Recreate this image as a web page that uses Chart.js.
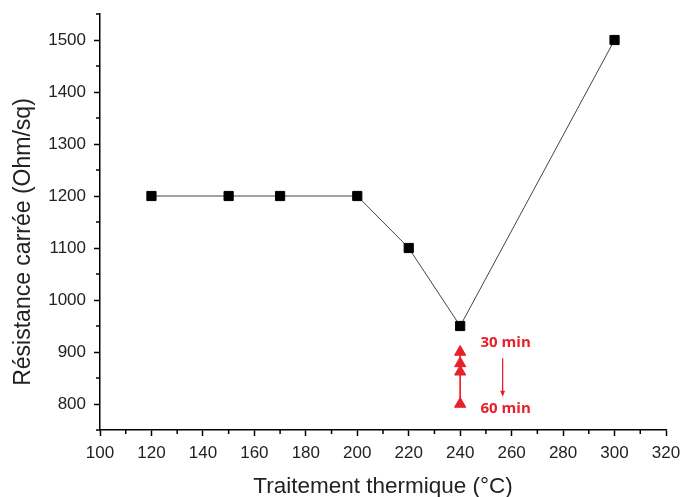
<!DOCTYPE html>
<html>
<head>
<meta charset="utf-8">
<script src="https://cdn.jsdelivr.net/npm/chart.js@4.4.0/dist/chart.umd.min.js"></script>
<style>
  html, body { margin: 0; padding: 0; background: #fff; }
  #wrap { width: 682px; height: 497px; }
</style>
</head>
<body>
<div id="wrap"><canvas id="chart"></canvas></div>
<script>
// donnees
const temperatures = [120, 150, 170, 200, 220, 240, 300];
const resistances = [1200, 1200, 1200, 1200, 1100, 950, 1500];
const tempsRecuit = [240, 240, 240, 240];
const resistancesRecuit = [900, 878, 862, 800];
const xTicks = [100, 120, 140, 160, 180, 200, 220, 240, 260, 280, 300, 320];
const yTicks = [800, 900, 1000, 1100, 1200, 1300, 1400, 1500];

const rouge = "#e8202a";

// petits traits secondaires, titre Y et annotations 30/60 min
const extras = {
  id: "extras",
  afterDraw(chart) {
    const { ctx, scales } = chart;
    const x = scales.x, y = scales.y;
    ctx.save();
    ctx.strokeStyle = "#000";
    ctx.lineWidth = 1.5;
    for (let v = 110; v < 320; v += 20) {
      const px = x.getPixelForValue(v);
      ctx.beginPath();
      ctx.moveTo(px, y.bottom);
      ctx.lineTo(px, y.bottom + 4);
      ctx.stroke();
    }
    for (let v = 750; v <= 1550; v += 100) {
      const py = y.getPixelForValue(v);
      ctx.beginPath();
      ctx.moveTo(x.left, py);
      ctx.lineTo(x.left - 4, py);
      ctx.stroke();
    }
    // titre Y (un peu decale vers le bas comme sur l'original)
    ctx.save();
    ctx.translate(24, 242);
    ctx.rotate(-Math.PI / 2);
    ctx.fillStyle = "#222";
    ctx.font = "23px 'Liberation Sans', Arial";
    ctx.textAlign = "center";
    ctx.textBaseline = "middle";
    ctx.fillText("Résistance carrée (Ohm/sq)", 0, 0);
    ctx.restore();
    // annotations
    ctx.fillStyle = rouge;
    ctx.font = "bold 15px 'Open Sans'";
    ctx.textAlign = "center";
    ctx.textBaseline = "middle";
    const ax = x.getPixelForValue(256.5);
    ctx.fillText("30 min", ax + 3, y.getPixelForValue(918));
    ctx.fillText("60 min", ax + 3, y.getPixelForValue(791));
    const y1 = y.getPixelForValue(888), y2 = y.getPixelForValue(814);
    ctx.strokeStyle = rouge;
    ctx.lineWidth = 1.3;
    ctx.beginPath();
    ctx.moveTo(ax, y1);
    ctx.lineTo(ax, y2 - 2);
    ctx.stroke();
    ctx.beginPath();
    ctx.moveTo(ax - 2.5, y2 - 6);
    ctx.lineTo(ax, y2);
    ctx.lineTo(ax + 2.5, y2 - 6);
    ctx.closePath();
    ctx.fill();
    ctx.restore();
  }
};

// pas de marge automatique pour les etiquettes
function sansMarge(s) {
  s.paddingLeft = 0;
  s.paddingRight = 0;
  s.paddingTop = 0;
  s.paddingBottom = 0;
}

new Chart(document.getElementById("chart").getContext("2d"), {
  type: "line",
  data: {
    datasets: [
      {
        label: "Recuit",
        data: temperatures.map((t, i) => ({ x: t, y: resistances[i] })),
        borderColor: "#444",
        borderWidth: 1,
        pointStyle: "rect",
        pointRadius: 6.5,
        pointBackgroundColor: "#000",
        pointBorderColor: "#000",
        tension: 0,
      },
      {
        label: "Duree",
        data: tempsRecuit.map((t, i) => ({ x: t, y: resistancesRecuit[i] })),
        borderColor: rouge,
        borderWidth: 1,
        pointStyle: "triangle",
        pointRadius: 6.5,
        pointBackgroundColor: rouge,
        pointBorderColor: rouge,
        tension: 0,
      },
    ],
  },
  options: {
    responsive: true,
    maintainAspectRatio: false,
    animation: false,
    layout: { padding: { top: 14, right: 16, left: 0, bottom: 0 } },
    plugins: { legend: { display: false }, tooltip: { enabled: false } },
    scales: {
      x: {
        type: "linear",
        min: 100,
        max: 320,
        afterFit(s) { s.height = 67; sansMarge(s); },
        afterBuildTicks(s) { s.ticks = xTicks.map(v => ({ value: v })); },
        border: { color: "#000", width: 1.5 },
        grid: { drawOnChartArea: false, drawTicks: true, tickLength: 6, tickColor: "#000", tickWidth: 1.5 },
        ticks: {
          color: "#222",
          font: { family: "'Liberation Sans', Arial", size: 17 },
          padding: 7,
          maxRotation: 0,
          callback: v => String(v),
        },
        title: {
          display: true,
          text: "Traitement thermique (°C)",
          color: "#222",
          font: { family: "'Liberation Sans', Arial", size: 22.5 },
          padding: { top: 0, bottom: -3 },
        },
      },
      y: {
        type: "linear",
        min: 750,
        max: 1550,
        afterFit(s) { s.width = 100; sansMarge(s); },
        afterBuildTicks(s) { s.ticks = yTicks.map(v => ({ value: v })); },
        border: { color: "#000", width: 1.5 },
        grid: { drawOnChartArea: false, drawTicks: true, tickLength: 6, tickColor: "#000", tickWidth: 1.5 },
        ticks: {
          color: "#222",
          font: { family: "'Liberation Sans', Arial", size: 17 },
          padding: 8,
          callback: v => String(v),
        },
      },
    },
  },
  plugins: [extras],
});
</script>
</body>
</html>
